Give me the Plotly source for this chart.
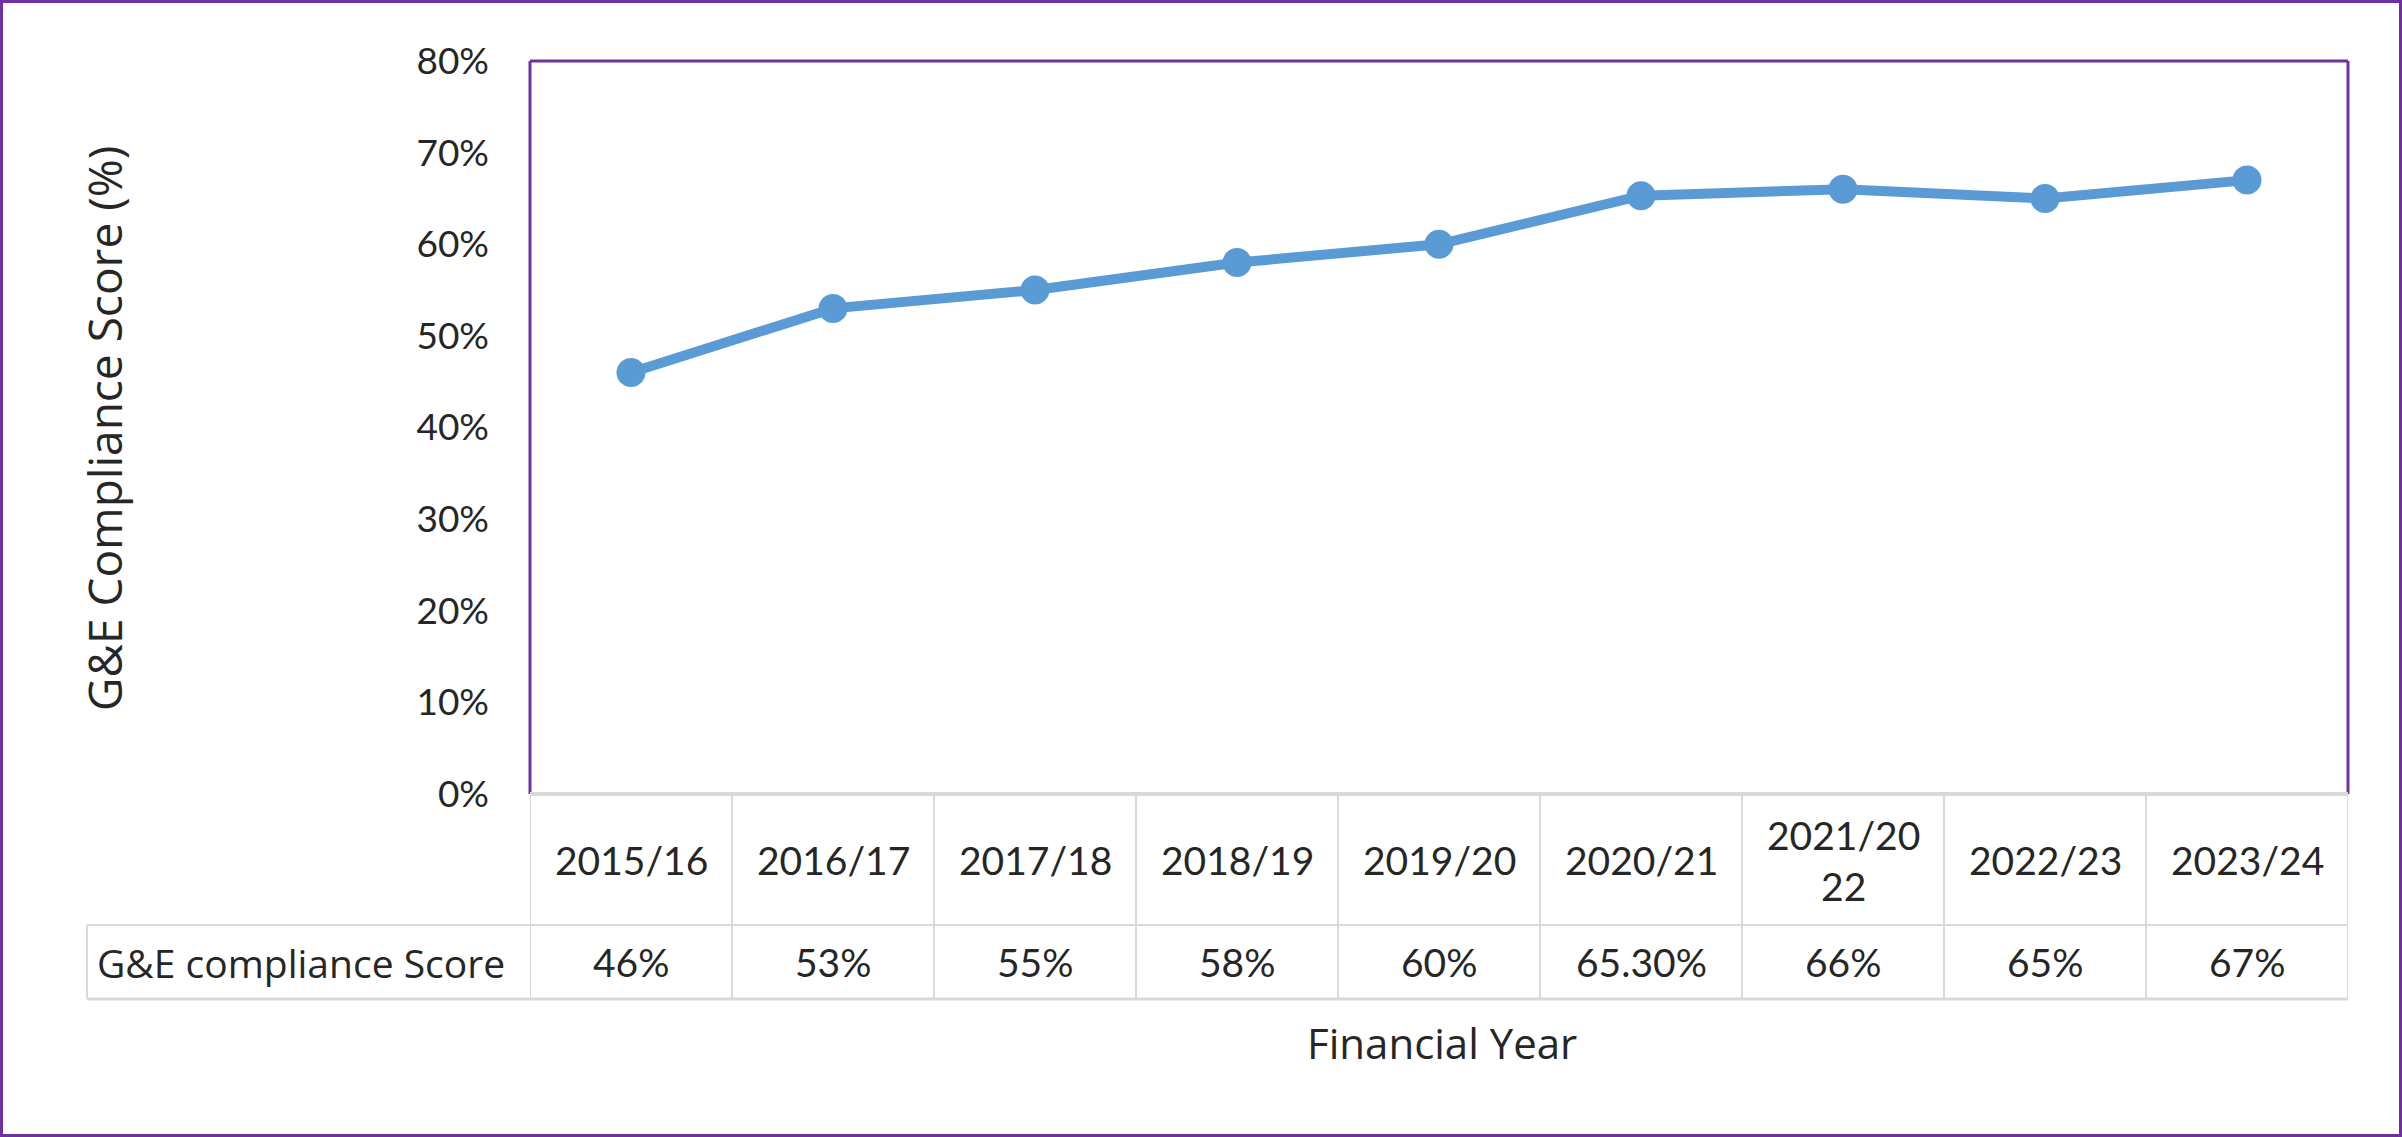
import plotly.graph_objects as go

# ---- data ----
years = ["2015/16", "2016/17", "2017/18", "2018/19", "2019/20",
         "2020/21", "2021/2022", "2022/23", "2023/24"]
year_labels = ["2015/16", "2016/17", "2017/18", "2018/19", "2019/20",
               "2020/21", "2021/20<br>22", "2022/23", "2023/24"]
scores = [0.46, 0.53, 0.55, 0.58, 0.60, 0.653, 0.66, 0.65, 0.67]
score_labels = ["46%", "53%", "55%", "58%", "60%", "65.30%", "66%", "65%", "67%"]
series_name = "G&E compliance Score"
y_ticks = [0, 0.1, 0.2, 0.3, 0.4, 0.5, 0.6, 0.7, 0.8]

# ---- layout geometry (pixels) ----
W, H = 2402, 1137
L, R, T, B = 530, 2348, 61, 794
PW, PH = R - L, B - T


def px(xp):
    return (xp - L) / PW


def py(yp):
    return (B - yp) / PH


FONT = "Lato, 'Open Sans', sans-serif"
FONT2 = "'Open Sans', Lato, sans-serif"
TXT = "#262626"
PURPLE = "#7030A0"
GRID = "#d9d9d9"
BLUE = "#5B9BD5"

fig = go.Figure()
fig.add_trace(go.Scatter(
    x=years, y=scores, mode="lines+markers", name=series_name,
    line=dict(color=BLUE, width=10),
    marker=dict(color=BLUE, size=29),
    showlegend=False, cliponaxis=False,
))

shapes = []
# plot area border: purple top/left/right
shapes.append(dict(type="line", xref="paper", yref="paper", x0=0, x1=0, y0=0, y1=1,
                   line=dict(color=PURPLE, width=3)))
shapes.append(dict(type="line", xref="paper", yref="paper", x0=1, x1=1, y0=0, y1=1,
                   line=dict(color=PURPLE, width=3)))
shapes.append(dict(type="line", xref="paper", yref="paper", x0=0, x1=1, y0=1, y1=1,
                   line=dict(color=PURPLE, width=3)))
# table horizontal lines
shapes.append(dict(type="line", xref="paper", yref="paper", x0=0, x1=1, y0=0, y1=0,
                   line=dict(color=GRID, width=4)))
shapes.append(dict(type="line", xref="paper", yref="paper", x0=px(87), x1=1,
                   y0=py(925), y1=py(925), line=dict(color=GRID, width=2)))
shapes.append(dict(type="line", xref="paper", yref="paper", x0=px(87), x1=1,
                   y0=py(999), y1=py(999), line=dict(color=GRID, width=3)))
# table vertical lines
shapes.append(dict(type="line", xref="paper", yref="paper", x0=px(87), x1=px(87),
                   y0=py(999), y1=py(925), line=dict(color=GRID, width=2)))
for i in range(len(years) + 1):
    shapes.append(dict(type="line", xref="x", yref="paper", x0=i - 0.5, x1=i - 0.5,
                       y0=py(999), y1=0, line=dict(color=GRID, width=2)))
# outer border
shapes.append(dict(type="rect", xref="paper", yref="paper",
                   x0=px(1.5), x1=px(W - 1.5), y0=py(H - 1.5), y1=py(1.5),
                   line=dict(color=PURPLE, width=3), layer="below"))

annotations = []
for i, lab in enumerate(year_labels):
    annotations.append(dict(x=years[i], y=py(860), xref="x", yref="paper",
                            text=lab, showarrow=False, yanchor="middle",
                            font=dict(size=39, color=TXT, family=FONT)))
for i, lab in enumerate(score_labels):
    annotations.append(dict(x=years[i], y=py(962), xref="x", yref="paper",
                            text=lab, showarrow=False, yanchor="middle",
                            font=dict(size=39, color=TXT, family=FONT)))
annotations.append(dict(x=px(95), y=py(962), xref="paper", yref="paper",
                        text=series_name, showarrow=False, xanchor="left", yanchor="middle",
                        font=dict(size=39, color=TXT, family=FONT2)))
annotations.append(dict(x=px(1442), y=py(1042), xref="paper", yref="paper",
                        text="Financial Year", showarrow=False, yanchor="middle",
                        font=dict(size=42, color=TXT, family=FONT2)))
annotations.append(dict(x=px(104), y=py(429), xref="paper", yref="paper",
                        text="G&E Compliance Score (%)", showarrow=False, textangle=-90,
                        xanchor="center", yanchor="middle",
                        font=dict(size=46, color=TXT, family=FONT2)))

fig.update_layout(
    width=W, height=H,
    margin=dict(l=L, r=W - R, t=T, b=H - B, pad=0),
    paper_bgcolor="white", plot_bgcolor="white",
    shapes=shapes, annotations=annotations,
    font=dict(family=FONT, color=TXT),
    xaxis=dict(type="category", range=[-0.5, len(years) - 0.5],
               showticklabels=False, showgrid=False, zeroline=False,
               showline=False, ticks=""),
    yaxis=dict(range=[0, 0.8], tickvals=y_ticks, tickformat=".0%",
               showgrid=False, zeroline=False, showline=False, ticks="",
               ticklabelstandoff=40,
               tickfont=dict(size=37, color=TXT, family=FONT)),
)

fig.write_html("out.html", config={"displayModeBar": False},
               post_script="document.body.style.margin='0';document.body.style.overflow='hidden';")
